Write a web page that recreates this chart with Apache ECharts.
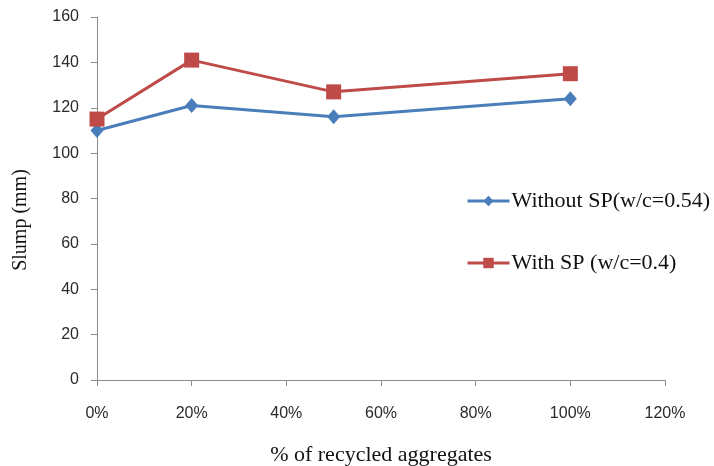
<!DOCTYPE html>
<html>
<head>
<meta charset="utf-8">
<script src="https://cdn.jsdelivr.net/npm/echarts@6/dist/echarts.min.js"></script>
<style>
  html, body { margin: 0; padding: 0; background: #fff; }
  #chart { width: 714px; height: 466px; }
</style>
</head>
<body>
<div id="chart"></div>
<script>
// Share of recycled aggregates (fraction of 1)
const recycledShare = [0, 0.2, 0.5, 1.0];
// Slump in mm
const slumpWithoutSP = [110, 121, 116, 124];
const slumpWithSP = [115, 141, 127, 135];
const seriesNames = ['Without SP(w/c=0.54)', 'With SP (w/c=0.4)'];
const xTitle = '% of recycled aggregates';
const yTitle = 'Slump (mm)';

const pairs = (xs, ys) => xs.map((x, i) => [x, ys[i]]);

const serif = '"Liberation Serif", "DejaVu Serif", serif';
const sans = '"Liberation Sans", "Open Sans", sans-serif';
const axisGrey = '#8c8c8c';

const chart = echarts.init(document.getElementById('chart'), null, { renderer: 'canvas' });
chart.setOption({
  animation: false,
  backgroundColor: '#fff',
  grid: {
    left: 97, right: 49, top: 17, bottom: 86,
    containLabel: false, outerBoundsMode: 'none'
  },
  xAxis: {
    type: 'value', min: 0, max: 1.2, interval: 0.2,
    name: xTitle, nameLocation: 'middle', nameGap: 64,
    nameTextStyle: { fontFamily: serif, fontSize: 22, color: '#111' },
    axisLine: { lineStyle: { color: axisGrey } },
    axisTick: { show: true, length: 6, lineStyle: { color: axisGrey } },
    splitLine: { show: false },
    axisLabel: {
      margin: 26, fontFamily: sans, fontSize: 16, color: '#2a2a2a',
      formatter: v => Math.round(v * 100) + '%'
    }
  },
  yAxis: {
    type: 'value', min: 0, max: 160, interval: 20,
    axisLine: { show: true, lineStyle: { color: axisGrey } },
    axisTick: { show: true, length: 6, lineStyle: { color: axisGrey } },
    splitLine: { show: false },
    axisLabel: { margin: 18, fontFamily: sans, fontSize: 16, color: '#2a2a2a' }
  },
  graphic: [{
    type: 'text', x: 21, y: 220, rotation: Math.PI / 2,
    style: {
      text: yTitle, fontFamily: serif, fontSize: 20, fill: '#111',
      align: 'center', verticalAlign: 'middle'
    }
  }],
  legend: {
    orient: 'vertical', left: 461, top: 185, itemGap: 40,
    itemWidth: 42, itemHeight: 13,
    lineStyle: { width: 3 },
    textStyle: { fontFamily: serif, fontSize: 22, color: '#111', padding: [0, 0, 0, -3] },
    data: seriesNames
  },
  series: [
    {
      name: seriesNames[0], type: 'line', data: pairs(recycledShare, slumpWithoutSP),
      symbol: 'diamond', symbolSize: [13, 15],
      lineStyle: { color: '#4a7ebb', width: 3 },
      itemStyle: { color: '#4a7ebb' }
    },
    {
      name: seriesNames[1], type: 'line', data: pairs(recycledShare, slumpWithSP),
      symbol: 'rect', symbolSize: 15,
      lineStyle: { color: '#be4b48', width: 3 },
      itemStyle: { color: '#be4b48' }
    }
  ]
});
</script>
</body>
</html>
